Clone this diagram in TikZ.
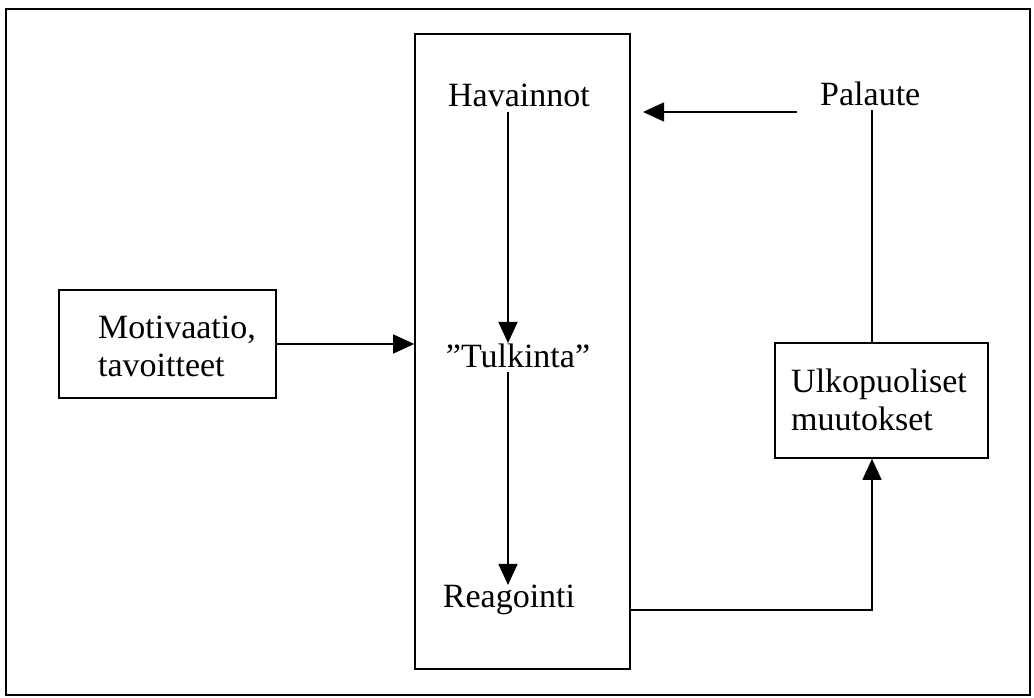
\documentclass[tikz,border=0pt]{standalone}
\usepackage{fontspec}
\setmainfont{Liberation Serif}
\usetikzlibrary{arrows.meta}
\begin{document}
\begin{tikzpicture}[x=1pt,y=1pt,
  lbl/.style={font=\fontsize{34}{38}\selectfont, inner sep=0pt, align=left},
  frame/.style={draw, line width=1.6pt},
  conn/.style={line width=1.4pt},
  arr/.style={conn, -{Triangle[length=21pt,width=19pt]}}]
\useasboundingbox (0,0) rectangle (1034,698);
% outer frame
\draw[frame] (6,3) rectangle (1030,689);
% boxes
\node[frame, minimum width=215pt, minimum height=635pt, inner sep=0pt] (core) at (522.5,346.5) {};
\node[frame, minimum width=217pt, minimum height=108pt, inner sep=0pt] (motiv) at (167.5,354) {};
\node[lbl] at (177,352) {Motivaatio,\\tavoitteet};
\node[frame, minimum width=213pt, minimum height=115pt, inner sep=0pt] (ulko) at (881.5,297.5) {};
\node[lbl, anchor=west] at (791,298) {Ulkopuoliset\\muutokset};
% texts inside the central box
\node[lbl] (hav) at (519,603) {Havainnot};
\node[lbl] (tulk) at (518,342) {”Tulkinta”};
\node[lbl] (reag) at (509,98) {Reagointi};
\node[lbl, anchor=west] (pal) at (820,604) {Palaute};
% connectors
\coordinate (h1) at (508,586);
\coordinate (h2) at (508,355);
\coordinate (t1) at (508,326);
\coordinate (t2) at (508,113);
\draw[arr] (h1) -- (h2);
\draw[arr] (t1) -- (t2);
\draw[arr] (motiv.east) -- (core.west |- motiv.east);
\coordinate (p1) at (797,586);
\coordinate (p2) at (643,586);
\draw[arr] (p1) -- (p2);
\coordinate (pv) at (872,588);
\draw[conn] (pv) -- (pv |- ulko.north);
\coordinate (r1) at (630,88);
\draw[arr] (core.east |- r1) -| (pv |- ulko.south);
\end{tikzpicture}
\end{document}
